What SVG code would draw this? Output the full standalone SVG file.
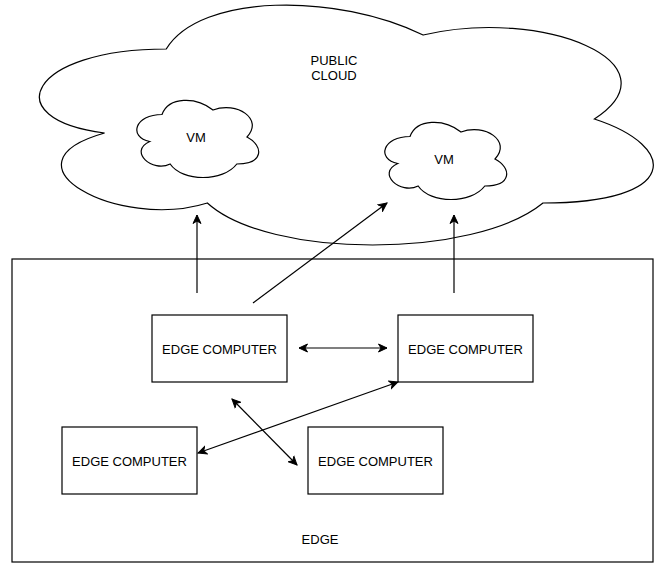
<svg xmlns="http://www.w3.org/2000/svg" width="660" height="564" viewBox="0 0 660 564">
<defs>
<style>
.shape{fill:#fff;stroke:#000;stroke-width:1.2}
.lbl{font-family:"Liberation Sans",Arial,Helvetica,sans-serif;font-size:13px;fill:#000;text-anchor:middle}
.edge{fill:none;stroke:#000;stroke-width:1.2}
</style>
<marker id="arr" viewBox="-9 -5 10 10" refX="0" refY="0" markerWidth="10" markerHeight="10" markerUnits="userSpaceOnUse" orient="auto-start-reverse">
<path d="M0,0 L-8.5,-4 L-6,0 L-8.5,4 Z" fill="#000" stroke="#000" stroke-width="1"/>
</marker>
</defs>
<rect width="660" height="564" fill="#fff"/>
<g id="public-cloud">
<path class="shape" d="M166.25,49 C29.25,49 -5,119 104.6,133 C-5,163.8 118.3,231 207.35,203 C269,259 474.5,259 543,203 C680,203 680,147 594.38,119 C680,63 543,7 423.13,35 C337.5,-7 200.5,-7 166.25,49 Z"/>
<text class="lbl" x="334" y="65">PUBLIC</text>
<text class="lbl" x="334" y="80">CLOUD</text>
</g>
<g id="vm-1">
<path class="shape" d="M162,114.5 C134.8,114.5 128,137 149.76,141.5 C128,151.4 152.48,173 170.16,164 C182.4,182 223.2,182 236.8,164 C264,164 264,146 247,137 C264,119 236.8,101 213,110 C196,96.5 168.8,96.5 162,114.5 Z"/>
<text class="lbl" x="196" y="141.5">VM</text>
</g>
<g id="vm-2">
<path class="shape" d="M410,136.5 C382.8,136.5 376,159 397.76,163.5 C376,173.4 400.48,195 418.16,186 C430.4,204 471.2,204 484.8,186 C512,186 512,168 495,159 C512,141 484.8,123 461,132 C444,118.5 416.8,118.5 410,136.5 Z"/>
<text class="lbl" x="444" y="163.5">VM</text>
</g>
<g id="edge">
<rect class="shape" x="12" y="259" width="641" height="303"/>
<text class="lbl" x="320" y="544">EDGE</text>
</g>
<g id="edge-computer-1">
<rect class="shape" x="152" y="315" width="135" height="67"/>
<text class="lbl" x="219.5" y="353.5">EDGE COMPUTER</text>
</g>
<g id="edge-computer-2">
<rect class="shape" x="398" y="315" width="135" height="67"/>
<text class="lbl" x="465.5" y="353.5">EDGE COMPUTER</text>
</g>
<g id="edge-computer-3">
<rect class="shape" x="62" y="427" width="135" height="67"/>
<text class="lbl" x="129.5" y="465.5">EDGE COMPUTER</text>
</g>
<g id="edge-computer-4">
<rect class="shape" x="308" y="427" width="135" height="67"/>
<text class="lbl" x="375.5" y="465.5">EDGE COMPUTER</text>
</g>
<g id="connectors">
<path class="edge" d="M197,293 L197,215" marker-end="url(#arr)"/>
<path class="edge" d="M253,303 L387,203" marker-end="url(#arr)"/>
<path class="edge" d="M454,293 L454,215" marker-end="url(#arr)"/>
<path class="edge" d="M299,348 L387,348" marker-start="url(#arr)" marker-end="url(#arr)"/>
<path class="edge" d="M398,382 L198,453" marker-start="url(#arr)" marker-end="url(#arr)"/>
<path class="edge" d="M232,399 L297,465" marker-start="url(#arr)" marker-end="url(#arr)"/>
</g>
</svg>
